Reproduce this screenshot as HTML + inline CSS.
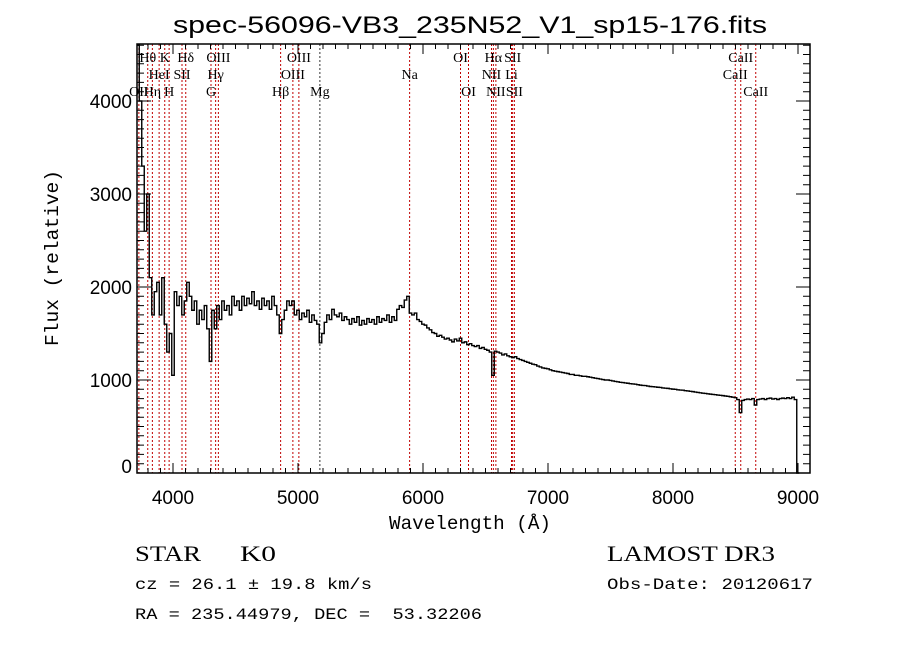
<!DOCTYPE html>
<html><head><meta charset="utf-8"><style>
html,body{margin:0;padding:0;background:#fff;}
svg{display:block;}
.pre{white-space:pre;}
</style></head><body>
<svg id="chart" width="900" height="649" xmlns="http://www.w3.org/2000/svg">
<rect width="900" height="649" fill="#fff"/>
<text x="470" y="33" text-anchor="middle" font-family="Liberation Sans, sans-serif" font-size="24" textLength="594" lengthAdjust="spacingAndGlyphs">spec-56096-VB3_235N52_V1_sp15-176.fits</text>
<g id="lines"></g>
<g id="labels" font-family="Liberation Serif, serif" font-size="14" fill="#000"></g>
<g id="spec"></g>
<g id="axes" stroke="#000" stroke-width="1.5" fill="none"></g>
<g id="ticklabels" font-family="Liberation Sans, sans-serif" font-size="19" fill="#000"></g>
<text x="470" y="529" text-anchor="middle" font-family="Liberation Mono, monospace" font-size="19" textLength="162" lengthAdjust="spacingAndGlyphs">Wavelength (Å)</text>
<text transform="translate(58,258) rotate(-90)" text-anchor="middle" font-family="Liberation Mono, monospace" font-size="19" textLength="176" lengthAdjust="spacingAndGlyphs">Flux (relative)</text>
<text y="561" font-family="Liberation Serif, serif" font-size="22"><tspan x="135" textLength="66" lengthAdjust="spacingAndGlyphs">STAR</tspan><tspan x="240" textLength="36" lengthAdjust="spacingAndGlyphs">K0</tspan></text>
<text x="607" y="561" font-family="Liberation Serif, serif" font-size="22" textLength="168" lengthAdjust="spacingAndGlyphs">LAMOST DR3</text>
<text class="pre" x="135" y="589" font-family="Liberation Mono, monospace" font-size="16" textLength="237" lengthAdjust="spacingAndGlyphs">cz = 26.1 ± 19.8 km/s</text>
<text x="607" y="589" font-family="Liberation Mono, monospace" font-size="16" textLength="206" lengthAdjust="spacingAndGlyphs">Obs-Date: 20120617</text>
<text class="pre" x="135" y="619" font-family="Liberation Mono, monospace" font-size="16" textLength="347" lengthAdjust="spacingAndGlyphs">RA = 235.44979, DEC =  53.32206</text>
</svg>
<script>
const lambdaStart = 3720;
const lambdaStep = 20;
const fluxValues = [
4600,4000,3300,2600,3000,2100,1700,1950,2050,1700,2100,1600,1300,1500,1050,1950,1800,1900,1700,1850,
2050,1900,1750,1850,1600,1750,1650,1800,1550,1200,1750,1550,1800,1650,1850,1750,1800,1700,1900,1800,
1850,1750,1900,1800,1880,1820,1950,1800,1850,1760,1880,1800,1850,1760,1900,1800,1700,1500,1650,1750,
1850,1800,1850,1700,1750,1650,1720,1680,1750,1620,1700,1640,1600,1400,1500,1620,1700,1650,1760,1700,
1680,1720,1640,1680,1650,1600,1660,1620,1680,1590,1640,1600,1660,1620,1650,1600,1680,1620,1660,1640,
1700,1620,1680,1640,1760,1800,1780,1860,1900,1720,
1700,1720,1650,1630,1600,1590,1560,1540,1510,1500,1470,1480,1460,1440,1450,1430,1410,1440,1420,1450,
1400,1410,1380,1390,1370,1360,1370,1340,1350,1330,1320,1300,1050,1310,1300,1290,1270,1280,1260,1250,
1240,1250,1230,1220,1210,1200,1190,1180,1170,1165,1150,1140,1130,1125,1120,1110,1100,1095,1090,1085,
1080,1075,1070,1060,1060,1050,1050,1045,1040,1040,1035,1030,1025,1020,1015,1010,1005,1000,1000,995,
990,985,980,975,972,968,965,960,958,955,950,945,942,940,935,930,928,925,922,920,
915,912,910,905,902,900,895,892,890,885,882,878,875,870,866,862,858,855,852,848,
845,842,838,835,832,828,825,820,815,810,790,650,780,790,795,790,800,730,790,795,
800,790,800,805,795,800,790,800,805,800,810,800,815,790,0];
const lineWaves = [3727,3798,3835,3889,3934,3969,4072,4102,4304,4341,4363,4861,4959,5007,5175,5893,6300,6364,6548,6563,6583,6708,6717,6731,8498,8542,8662];
const labelTexts = ["OII","Hθ","Hη","HeI","K","H","SII","Hδ","G","Hγ","OIII","Hβ","OIII","OIII","Mg","Na","OI","OI","NII","Hα","NII","Li","SII","SII","CaII","CaII","CaII"];
const labelRows = [2,0,2,1,0,2,1,0,2,1,0,2,1,0,2,1,0,2,1,0,2,1,0,2,1,0,2];
const xTicks = [4000,5000,6000,7000,8000,9000];
const yTicks = [0,1000,2000,3000,4000];

const X0=137,X1=810,Y0=44,Y1=473;
const xs = l => 298 + (l-5000)*0.125;
const ys = v => Y1 - v*0.093;
const NS="http://www.w3.org/2000/svg";
function mk(tag,parent){const e=document.createElementNS(NS,tag);parent.appendChild(e);return e;}
const clip=(v)=>Math.max(Y0,Math.min(Y1,v));

const gl=document.getElementById('lines');
lineWaves.forEach((w,i)=>{
  const l=mk('line',gl);
  
  
  l.setAttribute('x1',xs(w));l.setAttribute('x2',xs(w));
  l.setAttribute('y1',Y0);l.setAttribute('y2',Y1);
  l.setAttribute('stroke',(labelTexts[i]==='Mg')?'#333':'#c00000');
  l.setAttribute('stroke-width','1');l.setAttribute('stroke-dasharray','2,2');
});
const glab=document.getElementById('labels');
lineWaves.forEach((w,i)=>{
  const t=mk('text',glab);
  
  
  t.setAttribute('x',xs(w));t.setAttribute('y',62+labelRows[i]*17);
  t.setAttribute('text-anchor','middle');
  t.textContent=labelTexts[i];
});

const gs=document.getElementById('spec');
let pts=[];
fluxValues.forEach((f,i)=>{
  const l=lambdaStart+i*lambdaStep;
  const xa=Math.max(X0,xs(l-lambdaStep/2)), xb=Math.min(X1,xs(l+lambdaStep/2));
  const y=clip(ys(f));
  pts.push(xa+','+y, xb+','+y);
});
const pl=mk('polyline',gs);


pl.setAttribute('points',pts.join(' '));
pl.setAttribute('fill','none');pl.setAttribute('stroke','#000');pl.setAttribute('stroke-width','1.4');

const ga=document.getElementById('axes');
const box=mk('rect',ga);


box.setAttribute('x',X0);box.setAttribute('y',Y0);box.setAttribute('width',X1-X0);box.setAttribute('height',Y1-Y0);
let d='';
for(let l=3800;l<=9000;l+=100){const x=xs(l);const L=(l%1000===0)?10:5;d+=`M${x},${Y1}v${-L}M${x},${Y0}v${L}`;}
for(let v=0;v<=4600;v+=100){const y=ys(v);const L=(v%1000===0)?14:7;d+=`M${X0},${y}h${L}M${X1},${y}h${-L}`;}
const tk=mk('path',ga);


tk.setAttribute('d',d);tk.setAttribute('stroke-width','1');
const gt=document.getElementById('ticklabels');
xTicks.forEach(v=>{const t=mk('text',gt);
  
  
  t.setAttribute('x',xs(v));t.setAttribute('y',504);t.setAttribute('text-anchor','middle');t.textContent=v;});
yTicks.forEach(v=>{const t=mk('text',gt);
  
  
  t.setAttribute('x',132);t.setAttribute('y',Math.min(ys(v)+7,473));t.setAttribute('text-anchor','end');t.textContent=v;});
</script>
</body></html>
